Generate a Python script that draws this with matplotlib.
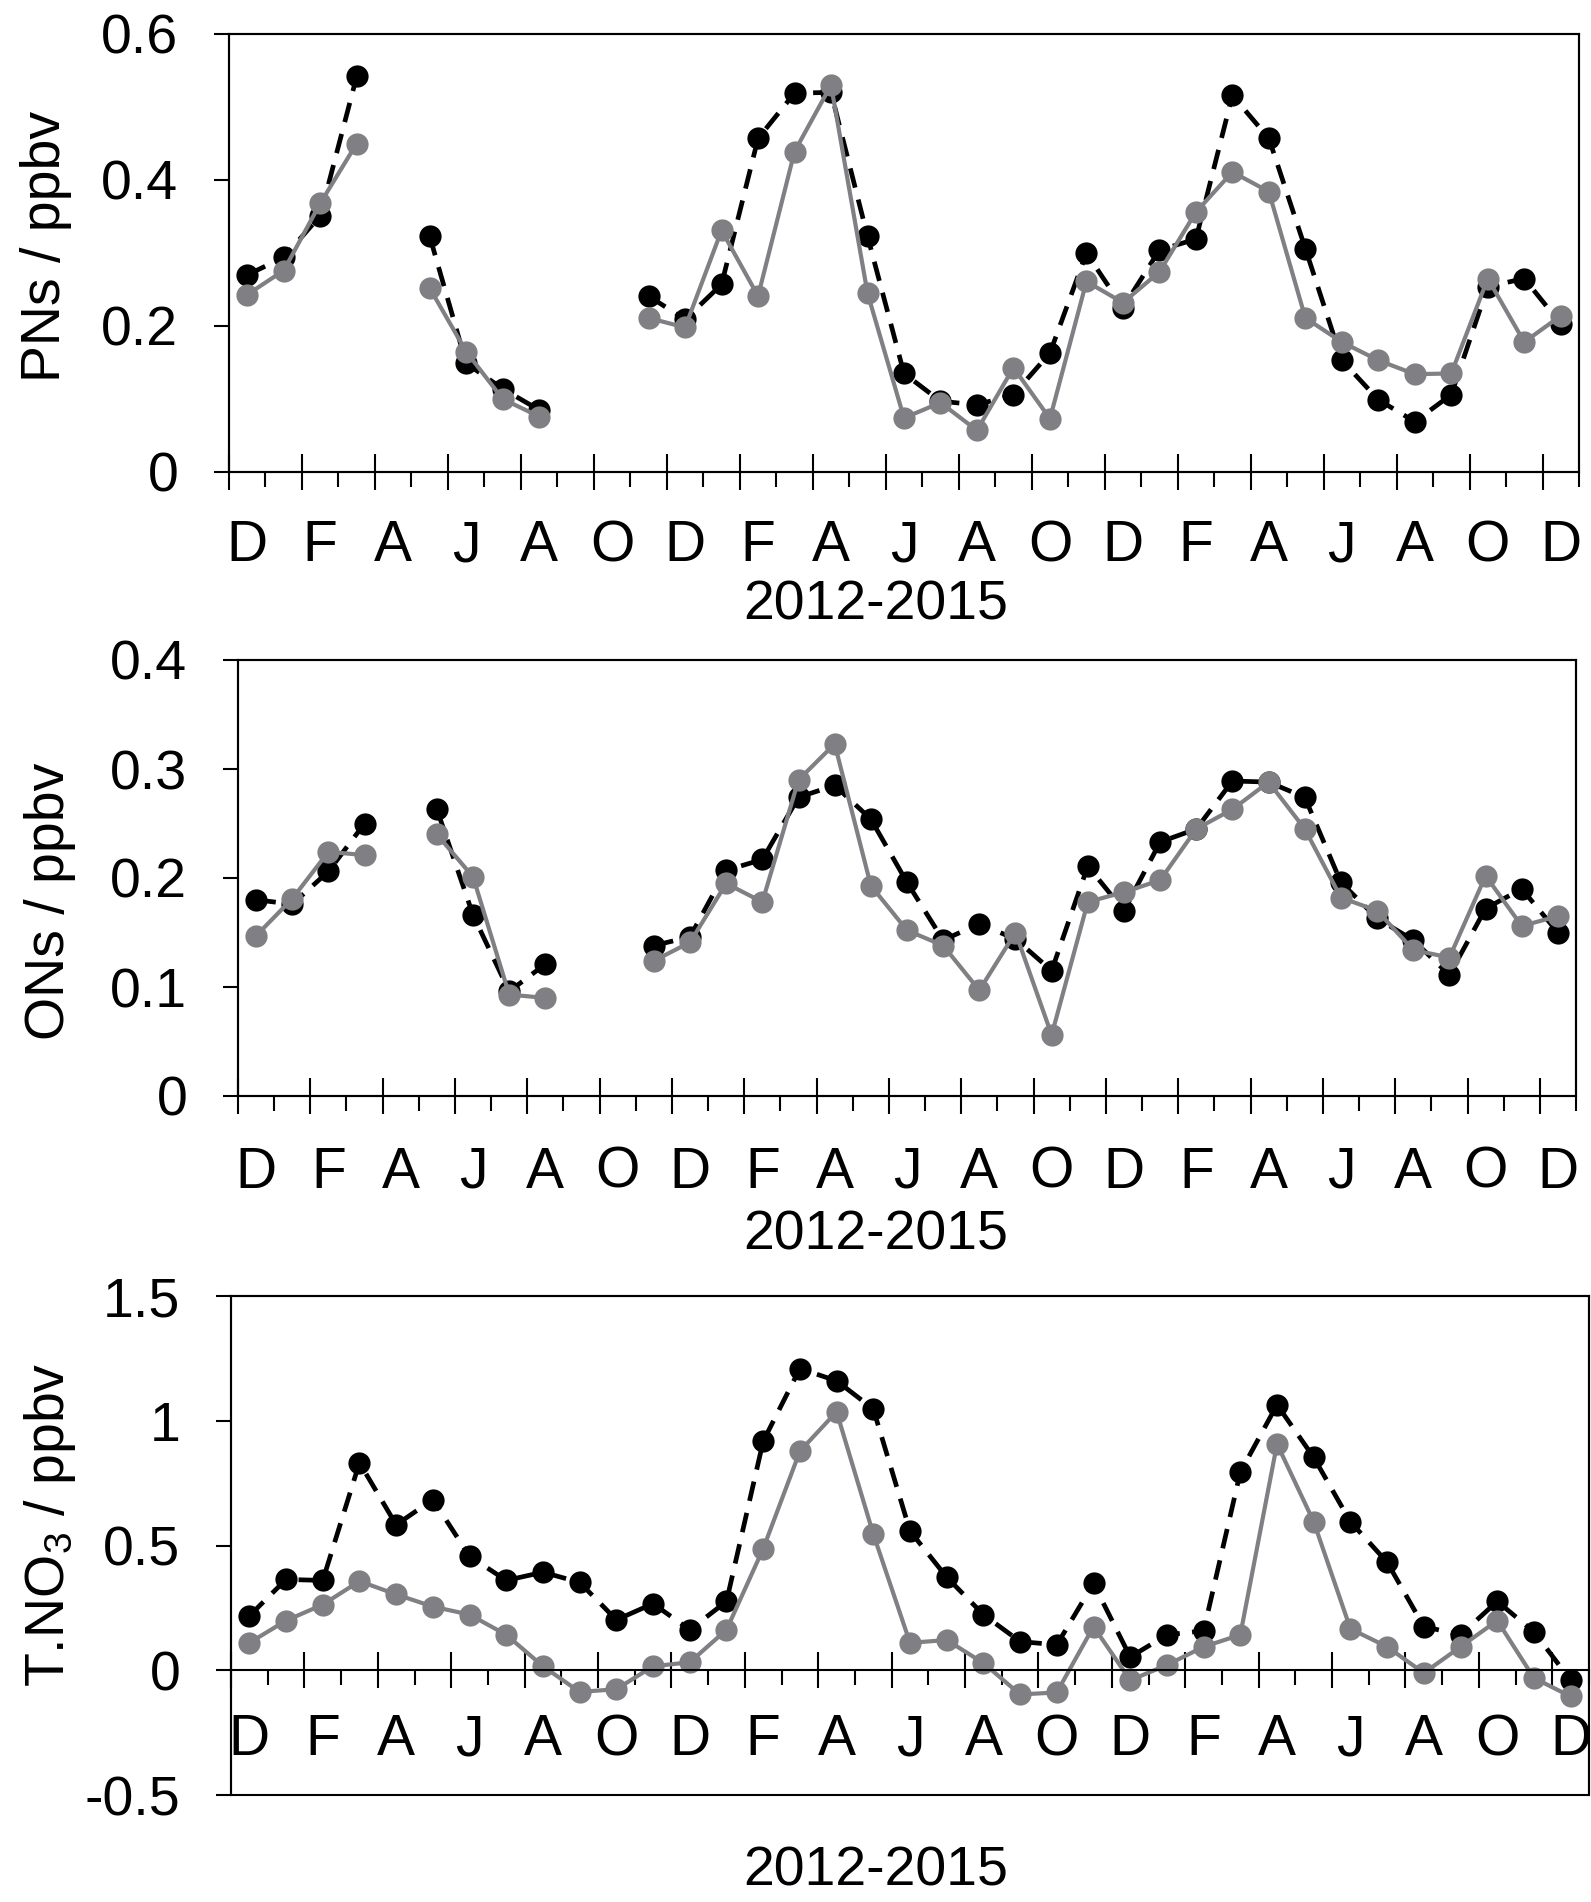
import numpy as np
import matplotlib
matplotlib.use("Agg")
import matplotlib.pyplot as plt

plt.rcParams['font.family'] = ['Liberation Sans', 'DejaVu Sans']
plt.rcParams['mathtext.default'] = 'regular'

nan = np.nan

# Dec 2012 .. Dec 2015, one value per month
MONTHS = ["D", "J", "F", "M", "A", "M", "J", "J", "A", "S", "O", "N"] * 3 + ["D"]

pns_black = [0.270, 0.294, 0.351, 0.542, nan, 0.323, 0.149, 0.114, 0.085, nan,
             nan, 0.241, 0.209, 0.257, 0.457, 0.519, 0.520, 0.323, 0.135, 0.097,
             0.092, 0.106, 0.163, 0.300, 0.225, 0.304, 0.319, 0.516, 0.457, 0.306,
             0.153, 0.099, 0.069, 0.106, 0.254, 0.265, 0.203]
pns_gray = [0.243, 0.276, 0.368, 0.450, nan, 0.252, 0.165, 0.100, 0.076, nan,
            nan, 0.211, 0.198, 0.331, 0.241, 0.439, 0.530, 0.245, 0.074, 0.095,
            0.057, 0.143, 0.073, 0.261, 0.232, 0.274, 0.356, 0.411, 0.384, 0.211,
            0.178, 0.153, 0.134, 0.135, 0.265, 0.178, 0.214]

ons_black = [0.180, 0.176, 0.206, 0.250, nan, 0.263, 0.166, 0.096, 0.121, nan,
             nan, 0.138, 0.146, 0.207, 0.217, 0.274, 0.285, 0.254, 0.196, 0.143,
             0.158, 0.144, 0.115, 0.211, 0.170, 0.233, 0.245, 0.289, 0.288, 0.274,
             0.196, 0.163, 0.143, 0.111, 0.172, 0.190, 0.150]
ons_gray = [0.147, 0.181, 0.224, 0.221, nan, 0.240, 0.201, 0.093, 0.090, nan,
            nan, 0.124, 0.141, 0.195, 0.178, 0.290, 0.323, 0.193, 0.152, 0.138,
            0.097, 0.150, 0.056, 0.178, 0.187, 0.198, 0.245, 0.263, 0.288, 0.245,
            0.182, 0.170, 0.134, 0.127, 0.202, 0.156, 0.165]

tno3_black = [0.218, 0.364, 0.360, 0.832, 0.583, 0.684, 0.457, 0.360, 0.393, 0.352,
              0.202, 0.267, 0.162, 0.276, 0.918, 1.209, 1.160, 1.047, 0.558, 0.373,
              0.223, 0.115, 0.102, 0.348, 0.053, 0.142, 0.158, 0.794, 1.064, 0.853,
              0.595, 0.433, 0.175, 0.142, 0.276, 0.154, -0.040]
tno3_gray = [0.110, 0.199, 0.263, 0.357, 0.304, 0.255, 0.223, 0.142, 0.016, -0.087,
             -0.076, 0.016, 0.032, 0.162, 0.487, 0.878, 1.036, 0.546, 0.110, 0.121,
             0.029, -0.097, -0.089, 0.175, -0.040, 0.021, 0.094, 0.142, 0.907, 0.595,
             0.166, 0.094, -0.011, 0.094, 0.199, -0.031, -0.105]

W, H = 1591, 1902
FS = 40
GRAY = '#808084'

fig = plt.figure(figsize=(W / 100, H / 100), dpi=100)


def add_axes(left, right, top, bottom):
    return fig.add_axes([left / W, 1 - bottom / H, (right - left) / W, (bottom - top) / H])


def panel(ax, black, gray, ylim, yticks, yticklabels, ylabel, ylab_xy, xlab_top, lab_pad):
    x = np.arange(len(MONTHS))
    ax.plot(x, black, color='black', ls=(0, (4.2, 2.6)), lw=3.4,
            marker='o', ms=16, mew=0, mfc='black')
    ax.plot(x, gray, color=GRAY, lw=3, marker='o', ms=16, mew=0, mfc=GRAY)

    ax.set_xlim(-0.5, len(MONTHS) - 0.5)
    ax.set_ylim(*ylim)

    # frame + x axis line at zero
    for s in ax.spines.values():
        s.set_linewidth(1.5)
    ax.spines['bottom'].set_position(('data', 0))
    ax.patch.set_edgecolor('black')
    ax.patch.set_linewidth(1.5)

    bounds = np.arange(len(MONTHS) + 1) - 0.5
    ax.set_xticks(bounds[::2])
    ax.set_xticks(bounds[1::2], minor=True)
    ax.tick_params(axis='x', which='major', direction='inout', length=26, width=1.5,
                   labelbottom=False)
    ax.tick_params(axis='x', which='minor', direction='out', length=10.5, width=1.5)

    ax.set_yticks(yticks, labels=yticklabels)
    ax.tick_params(axis='y', direction='out', length=10.5, width=1.5, pad=26,
                   labelsize=FS)

    # month letters centred on each category
    sec = ax.secondary_xaxis(0, transform=ax.transData)
    sec.set_xticks(x[::2], labels=MONTHS[::2])
    sec.tick_params(length=0, pad=lab_pad, labelsize=41)
    sec.spines['bottom'].set_visible(False)

    ax.set_ylabel(ylabel, fontsize=FS, va='center')
    ax.yaxis.set_label_coords(ylab_xy[0] / W, 1 - ylab_xy[1] / H, transform=fig.transFigure)
    ax.set_xlabel('2012-2015', fontsize=FS, va='top')
    ax.xaxis.set_label_coords(876 / W, 1 - xlab_top / H, transform=fig.transFigure)


ax1 = add_axes(229, 1579, 34, 472)
panel(ax1, pns_black, pns_gray, (0, 0.6), [0, 0.2, 0.4, 0.6],
      ['0', '0.2', '0.4', '0.6'], 'PNs / ppbv', (46, 246), 579, 34)

ax2 = add_axes(238, 1576, 660, 1096)
panel(ax2, ons_black, ons_gray, (0, 0.4), [0, 0.1, 0.2, 0.3, 0.4],
      ['0', '0.1', '0.2', '0.3', '0.4'], 'ONs / ppbv', (50, 901), 1209, 36)

ax3 = add_axes(231, 1589, 1296, 1795)
panel(ax3, tno3_black, tno3_gray, (-0.5, 1.5), [-0.5, 0, 0.5, 1, 1.5],
      ['-0.5', '0', '0.5', '1', '1.5'], 'T.NO$_3$ / ppbv', (50, 1525), 1846, 31)

fig.savefig('out.png', dpi=100)
